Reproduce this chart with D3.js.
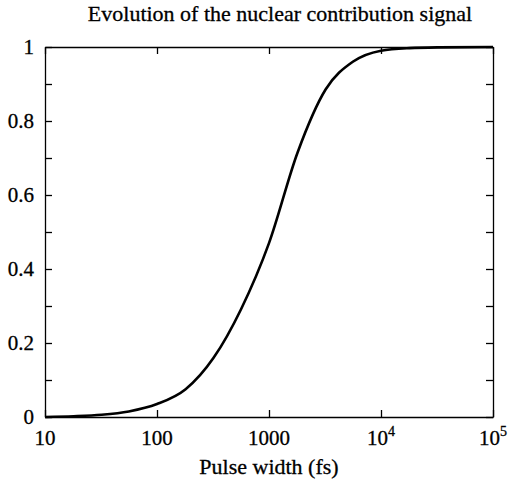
<!DOCTYPE html>
<html lang="en">
<head>
  <meta charset="UTF-8" />
  <title>Nuclear contribution signal</title>
  <style>
    body { margin: 0; background: #fff; }
    svg { display: block; }
    text { font-family: 'Liberation Serif', 'DejaVu Serif', serif; fill: #000; stroke: #000; stroke-width: 0.3px; }
    .axis path, .axis line { stroke: #000; stroke-width: 1.3px; }
    .curve { fill: none; stroke: #000; stroke-width: 2.6px; }
  </style>
</head>
<body>
  <svg width="508" height="482"></svg>

  <script src="https://d3js.org/d3.v7.min.js"></script>
  <script>
    // --- values
    const pulseWidth = [10, 18, 32, 56, 100, 180, 320, 560, 1000, 1800, 3200, 5600, 10000, 18000, 32000, 100000];
    const signal     = [0, 0.002, 0.006, 0.015, 0.035, 0.075, 0.16, 0.29, 0.47, 0.715, 0.885, 0.96, 0.99, 0.997, 0.999, 1];
    const xTicks = [10, 100, 1000, 10000, 100000];
    const xTickLabels = ["10", "100", "1000", "10^4", "10^5"];
    const yTicks = [0, 0.1, 0.2, 0.3, 0.4, 0.5, 0.6, 0.7, 0.8, 0.9, 1];
    const yTickLabels = ["0", "", "0.2", "", "0.4", "", "0.6", "", "0.8", "", "1"];

    const data = pulseWidth.map((p, i) => ({ p, s: signal[i] }));

    const svg = d3.select("svg");
    const margin = { top: 47, right: 15, bottom: 65, left: 45 };
    const width = +svg.attr("width") - margin.left - margin.right;
    const height = +svg.attr("height") - margin.top - margin.bottom;
    const g = svg.append("g").attr("transform", `translate(${margin.left},${margin.top})`);

    const x = d3.scaleLog().domain([10, 100000]).range([0, width]);
    const y = d3.scaleLinear().domain([0, 1]).range([height, 0]);

    const line = d3.line()
      .x(d => x(d.p))
      .y(d => y(d.s))
      .curve(d3.curveMonotoneX);

    // frame with inward ticks on all sides
    const tick = 7;
    g.append("g").attr("class", "axis").attr("transform", `translate(0,${height})`)
      .call(d3.axisBottom(x).tickValues(xTicks).tickSize(-tick).tickSizeOuter(0).tickFormat(""));
    g.append("g").attr("class", "axis")
      .call(d3.axisTop(x).tickValues(xTicks).tickSize(-tick).tickSizeOuter(0).tickFormat(""));
    g.append("g").attr("class", "axis")
      .call(d3.axisLeft(y).tickValues(yTicks).tickSize(-tick).tickSizeOuter(0).tickFormat(""));
    g.append("g").attr("class", "axis").attr("transform", `translate(${width},0)`)
      .call(d3.axisRight(y).tickValues(yTicks).tickSize(-tick).tickSizeOuter(0).tickFormat(""));

    // x tick labels (with superscripts for powers of ten)
    xTicks.forEach((v, i) => {
      const lab = xTickLabels[i];
      const t = g.append("text")
        .attr("x", x(v))
        .attr("y", height + 28)
        .attr("text-anchor", "middle")
        .style("font-size", "21px");
      if (lab.includes("^")) {
        const [base, exp] = lab.split("^");
        t.append("tspan").text(base);
        t.append("tspan").attr("dy", -9).style("font-size", "14px").text(exp);
      } else {
        t.text(lab);
      }
    });

    // y tick labels
    yTicks.forEach((v, i) => {
      if (!yTickLabels[i]) return;
      g.append("text")
        .attr("x", -11)
        .attr("y", y(v))
        .attr("dy", "0.35em")
        .attr("text-anchor", "end")
        .style("font-size", "21px")
        .text(yTickLabels[i]);
    });

    // curve
    g.append("path").datum(data).attr("class", "curve").attr("d", line);

    // titles
    svg.append("text")
      .attr("x", 280).attr("y", 21)
      .attr("text-anchor", "middle")
      .style("font-size", "22px")
      .text("Evolution of the nuclear contribution signal");
    svg.append("text")
      .attr("x", margin.left + width / 2).attr("y", 474)
      .attr("text-anchor", "middle")
      .style("font-size", "22px")
      .text("Pulse width (fs)");
  </script>
</body>
</html>
